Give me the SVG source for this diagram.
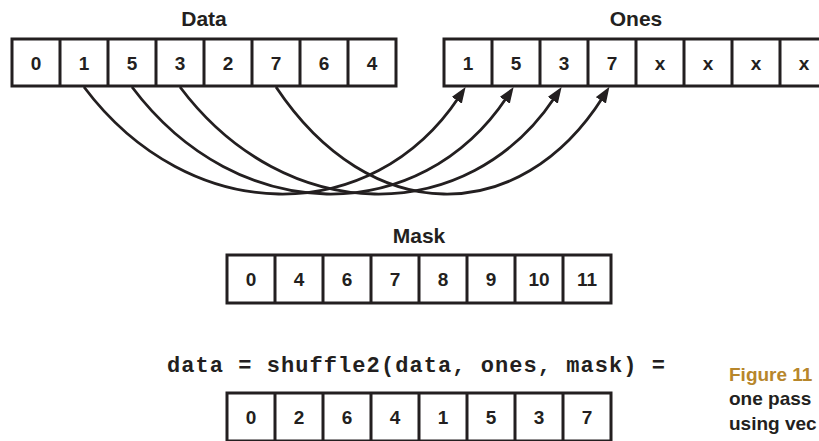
<svg xmlns="http://www.w3.org/2000/svg" width="819" height="441" viewBox="0 0 819 441">
<style>
.box{fill:none;stroke:#231f20;stroke-width:3}
.div{stroke:#231f20;stroke-width:3}
.cell{font-family:"Liberation Sans",Arial,sans-serif;font-weight:bold;font-size:19px;fill:#231f20;text-anchor:middle}
.title{font-family:"Liberation Sans",Arial,sans-serif;font-weight:bold;font-size:21px;fill:#231f20;text-anchor:middle}
.code{font-family:"Liberation Mono","Courier New",monospace;font-weight:bold;font-size:22px;fill:#231f20}
.cap{font-family:"Liberation Sans",Arial,sans-serif;font-weight:bold;font-size:19px}
.arc{fill:none;stroke:#231f20;stroke-width:2.8}
</style>
<defs>
<marker id="ah" markerUnits="userSpaceOnUse" markerWidth="17" markerHeight="13" refX="4" refY="6.5" orient="auto" viewBox="0 0 17 13">
<path d="M0,0.5 L16,6.5 L0,12.5 z" fill="#231f20"/>
</marker>
</defs>
<rect width="819" height="441" fill="#ffffff"/>

<g id="data">
<text class="title" x="204" y="26">Data</text>
<rect class="box" x="12" y="39" width="384" height="47"/>
<path class="div" d="M60,39V86M108,39V86M156,39V86M204,39V86M252,39V86M300,39V86M348,39V86"/>
<text class="cell" x="36" y="69.5">0</text>
<text class="cell" x="84" y="69.5">1</text>
<text class="cell" x="132" y="69.5">5</text>
<text class="cell" x="180" y="69.5">3</text>
<text class="cell" x="228" y="69.5">2</text>
<text class="cell" x="276" y="69.5">7</text>
<text class="cell" x="324" y="69.5">6</text>
<text class="cell" x="372" y="69.5">4</text>
</g>

<g id="ones">
<text class="title" x="636" y="26">Ones</text>
<rect class="box" x="444" y="39" width="384" height="47"/>
<path class="div" d="M492,39V86M540,39V86M588,39V86M636,39V86M684,39V86M732,39V86M780,39V86"/>
<text class="cell" x="468" y="69.5">1</text>
<text class="cell" x="516" y="69.5">5</text>
<text class="cell" x="564" y="69.5">3</text>
<text class="cell" x="612" y="69.5">7</text>
<text class="cell" x="660" y="69.5">x</text>
<text class="cell" x="708" y="69.5">x</text>
<text class="cell" x="756" y="69.5">x</text>
<text class="cell" x="804" y="69.5">x</text>
</g>

<g id="connectors">
<path class="arc" marker-end="url(#ah)" d="M84,87 C190,228 372,228 459,97"/>
<path class="arc" marker-end="url(#ah)" d="M132,87 C238,228 420,228 507,97"/>
<path class="arc" marker-end="url(#ah)" d="M180,87 C286,228 468,228 555,97"/>
<path class="arc" marker-end="url(#ah)" d="M276,87 C370,228 520,228 603,97"/>
</g>

<g id="mask">
<text class="title" x="419" y="243">Mask</text>
<rect class="box" x="227" y="255" width="384" height="48"/>
<path class="div" d="M275,255V303M323,255V303M371,255V303M419,255V303M467,255V303M515,255V303M563,255V303"/>
<text class="cell" x="251" y="286">0</text>
<text class="cell" x="299" y="286">4</text>
<text class="cell" x="347" y="286">6</text>
<text class="cell" x="395" y="286">7</text>
<text class="cell" x="443" y="286">8</text>
<text class="cell" x="491" y="286">9</text>
<text class="cell" x="539" y="286">10</text>
<text class="cell" x="587" y="286">11</text>
</g>

<g id="code">
<text class="code" x="167" y="372" textLength="498" lengthAdjust="spacing">data = shuffle2(data, ones, mask) =</text>
</g>

<g id="result">
<rect class="box" x="227" y="393" width="384" height="48"/>
<path class="div" d="M275,393V441M323,393V441M371,393V441M419,393V441M467,393V441M515,393V441M563,393V441"/>
<text class="cell" x="251" y="424">0</text>
<text class="cell" x="299" y="424">2</text>
<text class="cell" x="347" y="424">6</text>
<text class="cell" x="395" y="424">4</text>
<text class="cell" x="443" y="424">1</text>
<text class="cell" x="491" y="424">5</text>
<text class="cell" x="539" y="424">3</text>
<text class="cell" x="587" y="424">7</text>
</g>

<g id="caption">
<text class="cap" x="729" y="381" fill="#b7862b">Figure 11</text>
<text class="cap" x="729" y="405" fill="#231f20">one pass</text>
<text class="cap" x="729" y="430" fill="#231f20">using vec</text>
</g>
</svg>
